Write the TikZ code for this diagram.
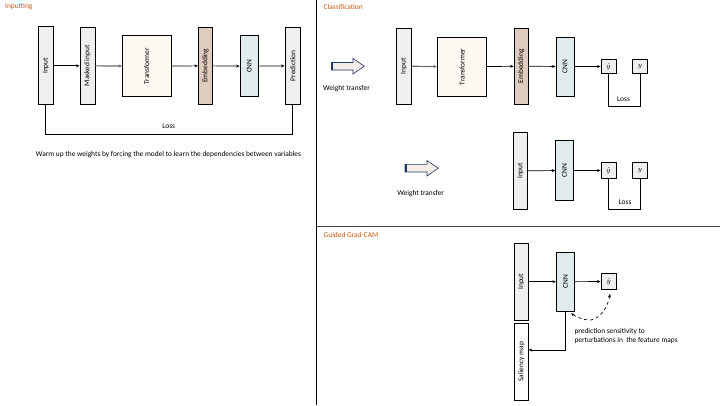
\documentclass[tikz,border=0pt]{standalone}
\usepackage{fontspec}
\setmainfont{Carlito}
\usetikzlibrary{arrows.meta}
\definecolor{boxgray}{HTML}{EFEFEF}
\definecolor{cream}{HTML}{FDF9F2}
\definecolor{tan}{HTML}{E0CCBE}
\definecolor{lblue}{HTML}{DFEBEC}
\definecolor{ttl}{HTML}{C65911}
\definecolor{wtfill}{HTML}{F6EEE8}
\definecolor{navy}{HTML}{203864}
\definecolor{darkline}{HTML}{404040}
\definecolor{garrow}{HTML}{6E6E6E}
\begin{document}
\begin{tikzpicture}[x=1pt,y=-1pt,
  box/.style={draw=black, line width=0.8pt, fill=boxgray, inner sep=0pt},
  vtext/.style={rotate=90, font=\fontsize{7.4}{8.5}\selectfont, inner sep=0pt},
  txt/.style={font=\fontsize{7.4}{8.5}\selectfont, inner sep=0pt},
  ttlstyle/.style={font=\fontsize{7.4}{8.5}\selectfont, text=ttl, inner sep=0pt, anchor=west},
  arr/.style={-{Stealth[length=3.5pt,width=3pt]}, line width=0.7pt},
  garr/.style={-{Stealth[length=3.5pt,width=3pt,fill=black]}, line width=1.2pt, draw=garrow},
  ln/.style={line width=0.7pt},
  wt/.style={draw=navy, line width=0.6pt, fill=wtfill},
]
\useasboundingbox (0,0) rectangle (720,405);
\fill[white] (0,0) rectangle (720,405);

% dividers
\draw[line width=0.9pt] (316.7,0) -- (316.7,405);
\draw[line width=0.9pt, darkline] (316.7,226.7) -- (720,226.7);

% titles
\node[ttlstyle] (t1) at (5,7) {Inputting};
\node[ttlstyle] (t2) at (323.5,7) {Classification};
\node[ttlstyle] (t3) at (323.5,235) {Guided Grad-CAM};

% ---------------- Inputting ----------------
\node[box, minimum width=15pt, minimum height=78pt] (in1) at (45.8,65.8) {};
\node[vtext] (in1t) at (in1) {Input};
\node[box, minimum width=15pt, minimum height=77pt] (mask) at (87.5,65.8) {};
\node[vtext] (maskt) at (mask) {Masked input};
\node[box, fill=cream, minimum width=48.7pt, minimum height=61pt] (tr1) at (146.7,66.2) {};
\node[vtext] (tr1t) at (tr1) {Transformer};
\node[box, fill=tan, minimum width=14.4pt, minimum height=77pt] (emb1) at (205.5,65.8) {};
\node[vtext] (emb1t) at (emb1) {Embedding};
\node[box, fill=lblue, minimum width=18.3pt, minimum height=61pt] (cnn1) at (249.2,66.2) {};
\node[vtext] (cnn1t) at (cnn1) {CNN};
\node[box, minimum width=15.7pt, minimum height=77pt] (pred) at (292.8,65.8) {};
\node[vtext] (predt) at (pred) {Prediction};

\draw[arr] (in1) -- (mask);
\draw[garr] (mask) -- (tr1);
\draw[arr] (tr1) -- (emb1);
\draw[arr] (emb1) -- (cnn1);
\draw[arr] (cnn1) -- (pred);

\coordinate (lossy1) at (0,134.3);
\draw[ln] (in1.south) -- (in1.south |- lossy1) -| (pred.south);
\node[txt] (loss1) at (168.7,125.7) {Loss};
\node[txt] (cap1) at (168.5,155) {Warm up the weights by forcing the model to learn the dependencies between variables};

% ---------------- Classification ----------------
\draw[wt] (331.5,62.5) -- (353,62.5) -- (353,58.3) -- (364.3,66.2) -- (353,74) -- (353,70) -- (331.5,70) -- cycle;
\draw[navy, line width=1.8pt] (332.4,62.5) -- (332.4,70);
\node[txt] (wt1) at (346.5,88.5) {Weight transfer};

\node[box, minimum width=15.7pt, minimum height=75.7pt] (in2) at (403.8,66.2) {};
\node[vtext] (in2t) at (in2) {Input};
\node[box, fill=cream, minimum width=49.4pt, minimum height=59pt] (tr2) at (462,66.8) {};
\node[vtext] (tr2t) at (tr2) {Transformer};
\node[box, fill=tan, minimum width=14.3pt, minimum height=76pt] (emb2) at (521.2,66.2) {};
\node[vtext] (emb2t) at (emb2) {Embedding};
\node[box, fill=lblue, minimum width=18pt, minimum height=59pt] (cnn2) at (565,66.5) {};
\node[vtext] (cnn2t) at (cnn2) {CNN};
\node[box, minimum width=15pt, minimum height=14.5pt] (yh2) at (608.5,66.5) {};
\node[txt] (yh2t) at (yh2) {$\hat{y}$};
\node[box, minimum width=14.6pt, minimum height=14.5pt] (y2) at (640,66.5) {};
\node[txt] (y2t) at (y2) {$y$};

\draw[garr] (in2) -- (tr2);
\draw[arr] (tr2) -- (emb2);
\draw[arr] (emb2) -- (cnn2);
\draw[arr] (cnn2) -- (yh2);
\coordinate (lossy2) at (0,106.7);
\draw[ln] (yh2.south) -- (yh2.south |- lossy2) -| (y2.south);
\node[txt] (loss2) at (623.5,99.3) {Loss};

% ---------------- second classification ----------------
\draw[wt] (405,164.3) -- (427,164.3) -- (427,160.5) -- (438.3,168.2) -- (427,176) -- (427,172) -- (405,172) -- cycle;
\draw[navy, line width=1.8pt] (405.9,164.3) -- (405.9,172);
\node[txt] (wt2) at (420.7,194) {Weight transfer};

\node[box, minimum width=14.4pt, minimum height=77pt] (in3) at (520.5,170.8) {};
\node[vtext] (in3t) at (in3) {Input};
\node[box, fill=lblue, minimum width=17.6pt, minimum height=59.3pt] (cnn3) at (564.5,170.5) {};
\node[vtext] (cnn3t) at (cnn3) {CNN};
\node[box, minimum width=15pt, minimum height=15.6pt] (yh3) at (608.5,170.5) {};
\node[txt] (yh3t) at (yh3) {$\hat{y}$};
\node[box, minimum width=15pt, minimum height=15.6pt] (y3) at (640,170.5) {};
\node[txt] (y3t) at (y3) {$y$};

\draw[arr] (in3) -- (cnn3);
\draw[arr] (cnn3) -- (yh3);
\coordinate (lossy3) at (0,209.3);
\draw[ln] (yh3.south) -- (yh3.south |- lossy3) -| (y3.south);
\node[txt] (loss3) at (625,201.7) {Loss};

% ---------------- Guided Grad-CAM ----------------
\node[box, minimum width=14pt, minimum height=76.7pt] (in4) at (521.3,281.7) {};
\node[vtext] (in4t) at (in4) {Input};
\node[box, fill=lblue, minimum width=18.4pt, minimum height=58.7pt] (cnn4) at (565.5,281.7) {};
\node[vtext] (cnn4t) at (cnn4) {CNN};
\node[box, minimum width=15.7pt, minimum height=16pt] (yh4) at (608.8,281.5) {};
\node[txt] (yh4t) at (yh4) {$\hat{y}$};
\node[box, fill=white, minimum width=14pt, minimum height=76.7pt] (sal) at (521.3,361.7) {};
\node[vtext] (salt) at (sal) {Saliency map};

\draw[arr] (in4) -- (cnn4);
\draw[arr] (cnn4) -- (yh4);
\coordinate (saly) at (0,350);
\draw[arr] (cnn4.south) -- (cnn4.south |- saly) -- (sal.east |- saly);

\draw[dashed, line width=0.7pt, {Stealth[length=3.5pt,width=3pt]}-{Stealth[length=3.5pt,width=3pt]}]
  ([xshift=1.2pt,yshift=-4pt]yh4.south) .. controls (607,312) and (596,321) .. (588,320)
  .. controls (580,319) and (575,316) .. ([xshift=-4pt,yshift=-1.8pt]cnn4.south east);
\node[txt, anchor=west, align=left] (sens) at (574.3,336) {prediction sensitivity to\\perturbations in~ the feature maps};
\end{tikzpicture}
\end{document}
